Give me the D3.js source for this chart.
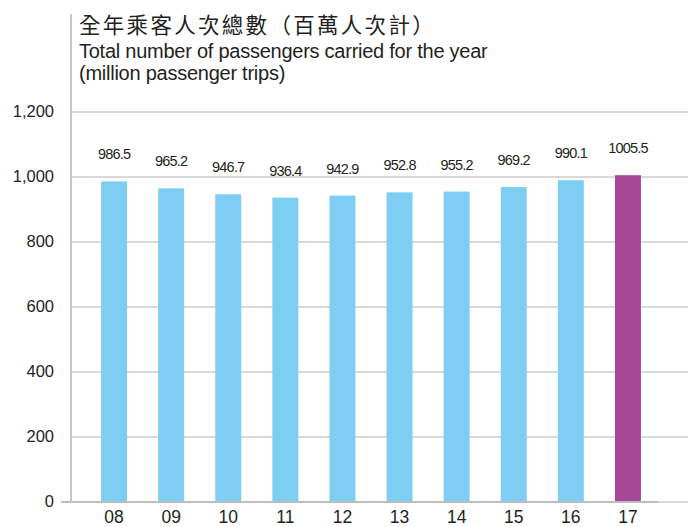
<!DOCTYPE html>
<html>
<head>
<meta charset="utf-8">
<script src="https://cdn.jsdelivr.net/npm/d3@7/dist/d3.min.js"></script>
<style>
  html, body { margin: 0; padding: 0; background: #ffffff; }
  svg { display: block; }
</style>
</head>
<body>
<svg id="chart" width="688" height="527"></svg>
<script>
// Annual passenger totals, million passenger trips
const years = ["08", "09", "10", "11", "12", "13", "14", "15", "16", "17"];
const passengers = [986.5, 965.2, 946.7, 936.4, 942.9, 952.8, 955.2, 969.2, 990.1, 1005.5];
const yTicks = [0, 200, 400, 600, 800, 1000, 1200];
const titleZh = "全年乘客人次總數（百萬人次計）";
const subtitleLines = ["Total number of passengers carried for the year", "(million passenger trips)"];

const W = 688, H = 527;
const latin = "'Liberation Sans', Arial, Helvetica, sans-serif";
const cjk = "'Noto Sans CJK TC', 'Noto Sans CJK SC', sans-serif";
const ink = "#231f20";
const blue = "#7ecef4";
const purple = "#a54996";
const gridColor = "#cdcdcd";

const svg = d3.select("#chart");

const axisX = 71, baseY = 502;
const y = d3.scaleLinear().domain([0, 1200]).range([baseY, 112]);
const x = d3.scaleBand()
  .domain(years)
  .range([85.5, 656.5])
  .paddingInner(0.545)
  .paddingOuter(0.2725);

// horizontal gridlines
svg.append("g")
  .selectAll("line")
  .data(yTicks.filter(t => t > 0))
  .join("line")
  .attr("x1", axisX)
  .attr("x2", W)
  .attr("y1", d => y(d))
  .attr("y2", d => y(d))
  .attr("stroke", gridColor)
  .attr("stroke-width", 1.6);

// y tick labels
const yAxis = d3.axisLeft(y)
  .tickValues(yTicks)
  .tickFormat(d3.format(","))
  .tickSize(0)
  .tickPadding(17);
const gy = svg.append("g")
  .attr("transform", `translate(${axisX},0)`)
  .call(yAxis);
gy.select(".domain").remove();
gy.selectAll("text")
  .attr("font-family", latin)
  .attr("font-size", 16.5)
  .attr("fill", ink)
  .attr("dy", "0.3em");

// bars
svg.append("g")
  .selectAll("rect")
  .data(passengers)
  .join("rect")
  .attr("x", (d, i) => x(years[i]))
  .attr("y", d => y(d))
  .attr("width", x.bandwidth())
  .attr("height", d => y(0) - y(d))
  .attr("fill", (d, i) => i === passengers.length - 1 ? purple : blue);

// value labels above bars
svg.append("g")
  .selectAll("text")
  .data(passengers)
  .join("text")
  .attr("x", (d, i) => x(years[i]) + x.bandwidth() / 2)
  .attr("y", d => y(d) - 22)
  .attr("text-anchor", "middle")
  .attr("font-family", latin)
  .attr("font-size", 14.5)
  .attr("letter-spacing", "-0.8px")
  .attr("fill", ink)
  .text(d => d.toFixed(1));

// baseline and vertical axis line
svg.append("line")
  .attr("x1", axisX).attr("x2", W)
  .attr("y1", baseY).attr("y2", baseY)
  .attr("stroke", gridColor).attr("stroke-width", 1.6);
svg.append("line")
  .attr("x1", 61).attr("x2", 658)
  .attr("y1", baseY).attr("y2", baseY)
  .attr("stroke", "#bdbdbd").attr("stroke-width", 2);
svg.append("line")
  .attr("x1", axisX).attr("x2", axisX)
  .attr("y1", 14).attr("y2", baseY + 1)
  .attr("stroke", "#c6c6c6").attr("stroke-width", 2);

// x tick labels
const xAxis = d3.axisBottom(x).tickSize(0).tickPadding(0);
const gx = svg.append("g")
  .attr("transform", `translate(0,${baseY})`)
  .call(xAxis);
gx.select(".domain").remove();
gx.selectAll("text")
  .attr("font-family", latin)
  .attr("font-size", 17.5)
  .attr("fill", ink)
  .attr("dy", null)
  .attr("y", 20.5);

// titles
svg.append("text")
  .attr("x", 79)
  .attr("y", 32.5)
  .attr("font-family", cjk)
  .attr("font-size", 21.5)
  .attr("letter-spacing", "2.3px")
  .attr("fill", ink)
  .text(titleZh);

svg.append("g")
  .selectAll("text")
  .data(subtitleLines)
  .join("text")
  .attr("x", 79)
  .attr("y", (d, i) => 58 + i * 22)
  .attr("font-family", latin)
  .attr("font-size", 20)
  .attr("letter-spacing", "-0.25px")
  .attr("fill", ink)
  .text(d => d);
</script>
</body>
</html>
